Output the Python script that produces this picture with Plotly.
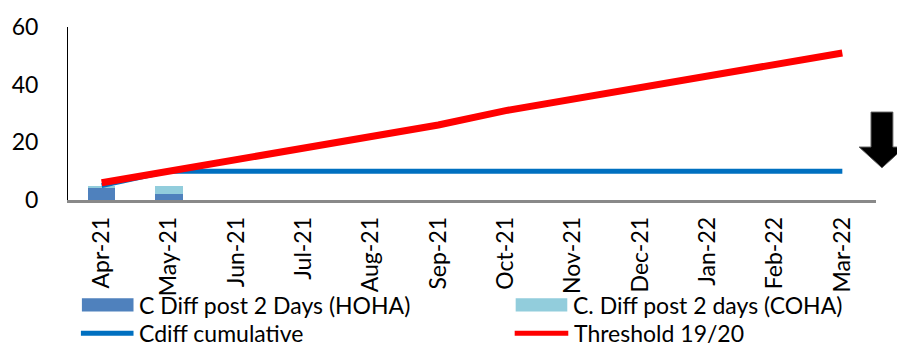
import plotly.graph_objects as go

# Monthly C. difficile cases, FY 2021/22
months = ["Apr-21", "May-21", "Jun-21", "Jul-21", "Aug-21", "Sep-21",
          "Oct-21", "Nov-21", "Dec-21", "Jan-22", "Feb-22", "Mar-22"]
hoha = [4, 2, None, None, None, None, None, None, None, None, None, None]
coha = [1, 3, None, None, None, None, None, None, None, None, None, None]
cumulative = [5, 10, 10, 10, 10, 10, 10, 10, 10, 10, 10, 10]
threshold = [6, 10, 14, 18, 22, 26, 31, 35, 39, 43, 47, 51]

FONT = "Lato"
W, H = 897, 355
ML, MR, MT, MB = 62, 21, 17, 155
PW, PH = W - ML - MR, H - MT - MB

C_HOHA = "#4F81BD"
C_COHA = "#92CDDC"
C_CUM = "#0070C0"
C_THR = "#FF0000"

fig = go.Figure()
fig.add_trace(go.Bar(x=months, y=hoha, name="C Diff post 2 Days (HOHA)",
                     marker=dict(color=C_HOHA, line=dict(width=0))))
fig.add_trace(go.Bar(x=months, y=coha, name="C. Diff post 2 days (COHA)",
                     marker=dict(color=C_COHA, line=dict(width=0))))
fig.add_trace(go.Scatter(x=months, y=cumulative, name="Cdiff cumulative",
                         mode="lines", line=dict(color=C_CUM, width=5)))
fig.add_trace(go.Scatter(x=months, y=threshold, name="Threshold 19/20",
                         mode="lines", line=dict(color=C_THR, width=7)))


def px(x):
    return (x - ML) / PW


def py(y):
    return (H - MB - y) / PH


shapes = []
annotations = []

# Legend drawn as two columns below the axis
legend_items = [
    ("rect", C_HOHA, "C Diff post 2 Days (HOHA)", 76, 128, 311),
    ("rect", C_COHA, "C. Diff post 2 days (COHA)", 513, 565, 311),
    ("line", C_CUM, "Cdiff cumulative", 75, 128, 341),
    ("line", C_THR, "Threshold 19/20", 512, 566, 341),
]
for kind, color, label, x0, x1, yc in legend_items:
    if kind == "rect":
        shapes.append(dict(type="rect", xref="paper", yref="paper",
                           x0=px(x0), x1=px(x1), y0=py(yc - 7), y1=py(yc + 7),
                           fillcolor=color, line=dict(width=0)))
    else:
        shapes.append(dict(type="line", xref="paper", yref="paper",
                           x0=px(x0), x1=px(x1), y0=py(yc), y1=py(yc),
                           line=dict(color=color, width=5)))
    annotations.append(dict(text=label, xref="paper", yref="paper",
                            x=px(x1 + 4), y=py(yc), xanchor="left",
                            yanchor="middle", showarrow=False,
                            font=dict(family=FONT, size=23, color="#000000")))

# Downward arrow at the right edge
arrow_pts = [(871, 107), (893, 107), (893, 144), (905, 144),
             (882, 166), (859, 144), (871, 144)]
path = "M " + " L ".join(f"{px(x)},{py(y)}" for x, y in arrow_pts) + " Z"
shapes.append(dict(type="path", xref="paper", yref="paper", path=path,
                   fillcolor="#000000", line=dict(color="#595959", width=1)))

fig.update_layout(
    width=W, height=H,
    margin=dict(l=ML, r=MR, t=MT, b=MB),
    barmode="stack", bargap=0.59,
    plot_bgcolor="#FFFFFF", paper_bgcolor="#FFFFFF",
    showlegend=False,
    font=dict(family=FONT, size=22, color="#000000"),
    shapes=shapes, annotations=annotations,
)
fig.update_xaxes(type="category", showgrid=False, showline=True,
                 linecolor="#898989", linewidth=2.5, tickangle=-90,
                 ticks="", ticklabelstandoff=5,
                 tickfont=dict(family=FONT, size=23, color="#000000"))
fig.update_yaxes(range=[0, 60], dtick=20, showgrid=False, zeroline=False,
                 showline=True, linecolor="#000000", linewidth=1,
                 ticks="", ticklabelstandoff=24,
                 tickfont=dict(family=FONT, size=23, color="#000000"))

fig.write_html("out.html")
